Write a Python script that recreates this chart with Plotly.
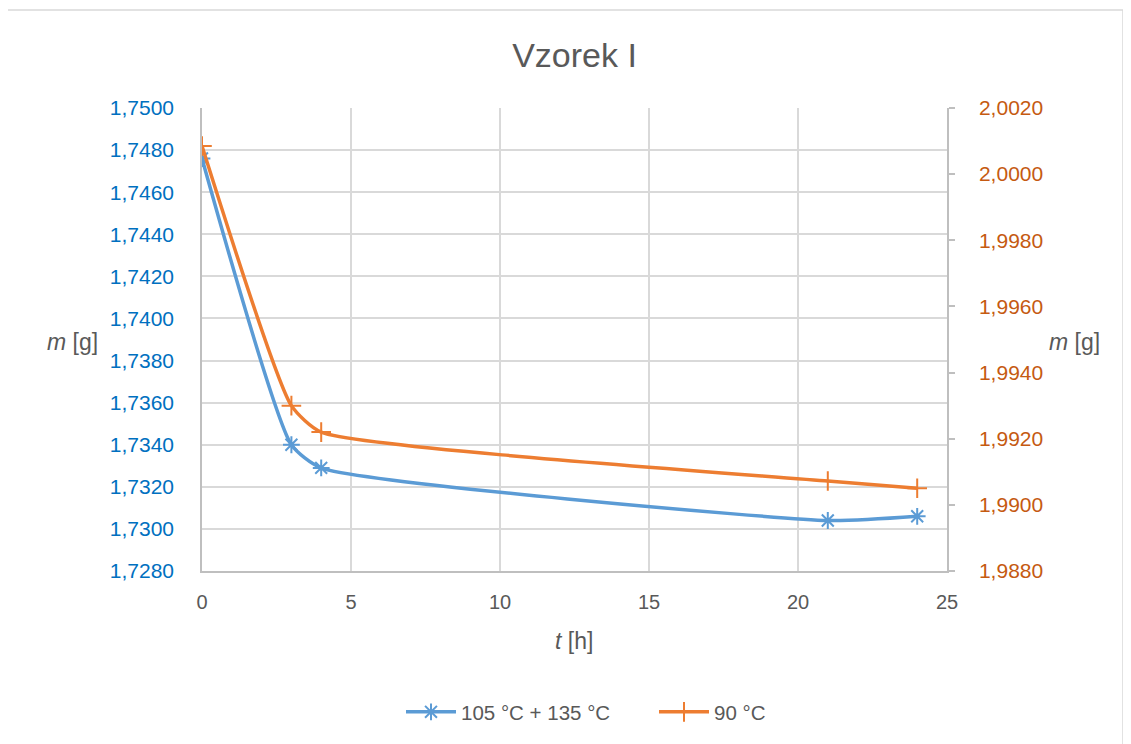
import plotly.graph_objects as go

t_h = [0, 3, 4, 21, 24]
m_blue = [1.7476, 1.7340, 1.7329, 1.7304, 1.7306]
m_orange = [2.00085, 1.9930, 1.9922, 1.99072, 1.9905]

name_blue = "105 °C + 135 °C"
name_orange = "90 °C"

BLUE = "#5B9BD5"
ORANGE = "#ED7D31"
GRID = "#D9D9D9"
AXIS = "#BFBFBF"
TXT = "#595959"
FONT = "Liberation Sans, Arial, sans-serif"

fig = go.Figure()
fig.add_trace(go.Scatter(
    x=t_h, y=m_blue, name=name_blue, mode="lines+markers",
    line=dict(color=BLUE, width=3.5, shape="spline", smoothing=0.55),
    marker=dict(symbol="asterisk-open", size=14, color=BLUE, line=dict(color=BLUE, width=2)),
    yaxis="y"))
fig.add_trace(go.Scatter(
    x=t_h, y=m_orange, name=name_orange, mode="lines+markers",
    line=dict(color=ORANGE, width=3.5, shape="spline", smoothing=0.55),
    marker=dict(symbol="cross-thin-open", size=14, color=ORANGE, line=dict(color=ORANGE, width=2)),
    yaxis="y2"))

# page body margin offsets the figure by 8px; target pixel coords are in window space
OFF = 8
W, H = 1131 - OFF, 744 - OFF
L, R, T, B = 202 - OFF, 947 - OFF, 108 - OFF, 571 - OFF
pw, ph = R - L, B - T

def px_x(x):
    return (x - OFF - L) / pw

def px_y(y):
    return (B - (y - OFF)) / ph

fig.update_layout(
    width=W, height=H,
    margin=dict(l=L, r=W - R, t=T, b=H - B, autoexpand=False),
    paper_bgcolor="white", plot_bgcolor="white",
    separators=", ",
    font=dict(family=FONT, color=TXT, size=21),
    title=dict(text="Vzorek I", x=0.5, xref="paper", y=1 - (55 - OFF) / H, yanchor="middle",
               font=dict(family=FONT, size=34, color=TXT)),
    showlegend=True,
    legend=dict(orientation="h", x=px_x(401), xanchor="left", y=px_y(712), yanchor="middle",
                font=dict(family=FONT, size=20.5, color=TXT), itemwidth=50, entrywidth=188),
    xaxis=dict(range=[0, 25], dtick=5, tick0=0, showgrid=True, gridcolor=GRID, gridwidth=1.5,
               showline=True, linecolor=AXIS, linewidth=1.5, zeroline=False, automargin=False,
               ticks="", ticklabelstandoff=12, tickfont=dict(color=TXT, size=20)),
    yaxis=dict(range=[1.728, 1.750], dtick=0.002, tick0=1.728, tickformat=".4f",
               showgrid=True, gridcolor=GRID, gridwidth=1.5, automargin=False,
               showline=True, linecolor=AXIS, linewidth=1.5, zeroline=False,
               ticks="", ticklabelstandoff=22, tickfont=dict(color="#0070C0", size=21)),
    yaxis2=dict(range=[1.988, 2.002], dtick=0.002, tick0=1.988, tickformat=".4f",
                overlaying="y", side="right", showgrid=False, automargin=False,
                showline=True, linecolor=AXIS, linewidth=1.5, zeroline=False,
                ticks="outside", ticklen=6, tickcolor=AXIS, tickwidth=1.5,
                ticklabelstandoff=20, tickfont=dict(color="#C55A11", size=21)),
)

fig.add_annotation(text="<i>m</i> [g]", x=px_x(72), y=px_y(342), xref="paper", yref="paper",
                   xanchor="center", yanchor="middle",
                   showarrow=False, font=dict(family=FONT, size=23, color=TXT))
fig.add_annotation(text="<i>m</i> [g]", x=px_x(1074), y=px_y(342), xref="paper", yref="paper",
                   xanchor="center", yanchor="middle",
                   showarrow=False, font=dict(family=FONT, size=23, color=TXT))
fig.add_annotation(text="<i>t</i> [h]", x=px_x(574), y=px_y(641), xref="paper", yref="paper",
                   xanchor="center", yanchor="middle",
                   showarrow=False, font=dict(family=FONT, size=23, color=TXT))

fig.add_shape(type="rect", xref="paper", yref="paper",
              x0=px_x(7), x1=px_x(1123), y0=px_y(770), y1=px_y(10),
              line=dict(color=GRID, width=1.5), fillcolor="rgba(0,0,0,0)", layer="below")

fig.write_html("out.html")
